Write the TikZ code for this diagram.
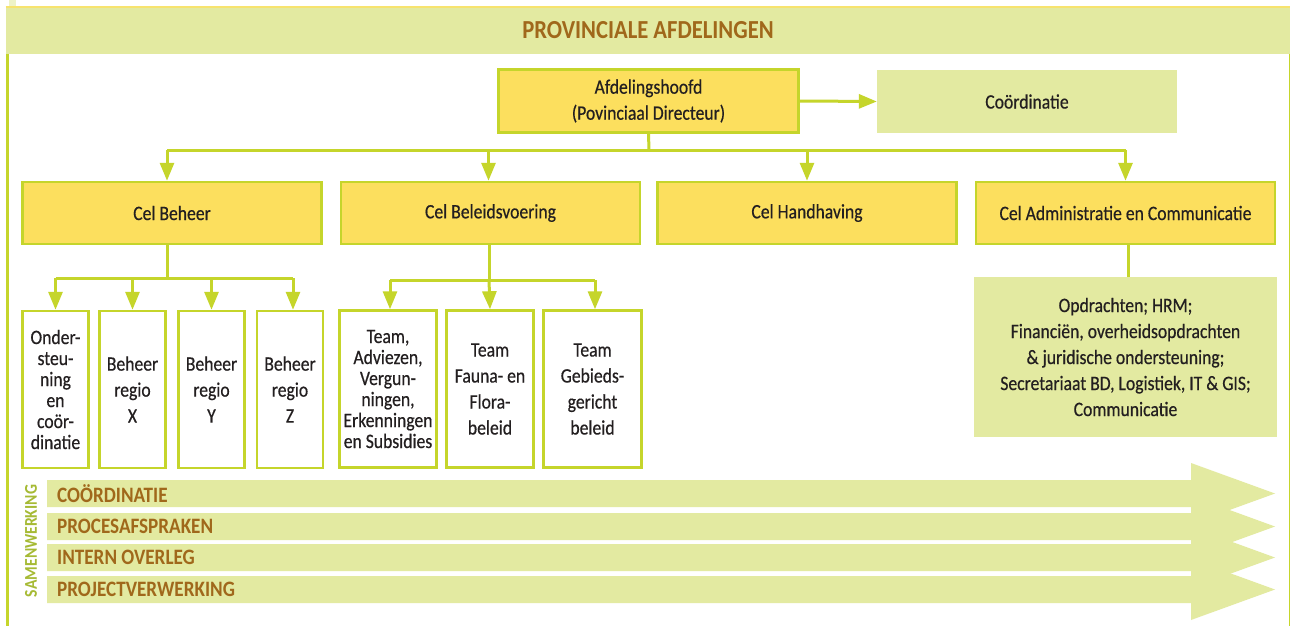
\documentclass[tikz,border=0pt]{standalone}
\usepackage{fontspec}
\setmainfont{Carlito}[FakeStretch=0.87]
\newfontfamily\bodyfam{Carlito}[FakeStretch=0.86, FakeBold=0.5]
\usetikzlibrary{arrows.meta}
\definecolor{lgreen}{HTML}{E3EAA1}
\definecolor{lime}{HTML}{C5D52B}
\definecolor{yfill}{HTML}{FCDF5E}
\definecolor{tbrown}{HTML}{A0681B}
\definecolor{olivegr}{HTML}{A6BA34}
\definecolor{topline}{HTML}{F7E36E}
\definecolor{txt}{HTML}{231F20}
\newcommand{\myBody}{\bodyfam\fontsize{20.5}{26}\selectfont}
\newcommand{\myTight}{\bodyfam\fontsize{20.5}{21}\selectfont}
\tikzset{
  ybox/.style={draw=lime, line width=2.5pt, fill=yfill, text=txt, font=\myBody, align=center, inner sep=0pt},
  wbox/.style={draw=lime, line width=2.5pt, fill=white, text=txt, font=\myBody, align=center, inner sep=0pt, minimum height=157pt},
  gbox/.style={fill=lgreen, text=txt, font=\myBody, align=center, inner sep=0pt},
  conn/.style={draw=lime, line width=3pt},
  arr/.style={conn, -{Triangle[length=18pt,width=14pt]}},
  lab/.style={anchor=west, text=tbrown, font=\fontsize{22}{24}\selectfont\bfseries, inner sep=0pt}
}
\begin{document}
\begin{tikzpicture}[x=1pt,y=-1pt]
\useasboundingbox (0,0) rectangle (1290,626);
\fill[white] (0,0) rectangle (1290,626);
\fill[lgreen!60] (9,0) rectangle (16,6);
% header band
\node[fill=lgreen, minimum width=1284pt, minimum height=47pt, inner sep=0pt, text=tbrown, font=\fontsize{26}{28}\selectfont\bfseries] (hdr) at (648,30.5) {PROVINCIALE AFDELINGEN};
\draw[topline, line width=1.5pt] (hdr.north west) -- (hdr.north east);
\coordinate (lt) at (7.5,54);
\coordinate (lb) at (7.5,626);
\coordinate (rt) at (1289,54);
\coordinate (rb) at (1289,626);
\draw[lime, line width=3pt] (lt) -- (lb);
\draw[lime, line width=1pt] (rt) -- (rb);
% top level
\node[ybox, minimum width=300pt, minimum height=63pt] (head) at (648.5,101) {Afdelingshoofd\\(Povinciaal Directeur)};
\node[gbox, minimum width=300pt, minimum height=63pt] (coord) at (1027,101.5) {Coördinatie};
\draw[arr] (head.east) -- (coord.west);
% cells
\node[ybox, minimum width=299pt, minimum height=62pt] (beheer) at (172,213) {Cel Beheer};
\node[ybox, minimum width=299pt, minimum height=62pt] (beleid) at (490.5,213) {Cel Beleidsvoering};
\node[ybox, minimum width=299pt, minimum height=62pt] (handh) at (807,213) {Cel Handhaving};
\node[ybox, minimum width=299pt, minimum height=62pt] (admin) at (1125.5,213) {Cel Administratie en Communicatie};
\coordinate (bus) at (649,150);
\draw[conn] (head.south) -- (bus);
\draw[conn] ([xshift=-5pt]beheer.north |- bus) -- (admin.north |- bus);
\draw[arr] ([xshift=-5pt]beheer.north |- bus) -- ([xshift=-5pt]beheer.north);
\draw[arr] ([xshift=-2pt]beleid.north |- bus) -- ([xshift=-2pt]beleid.north);
\draw[arr] (handh.north |- bus) -- (handh.north);
\draw[arr] (admin.north |- bus) -- (admin.north);
% beheer sub boxes
\node[wbox, minimum width=66pt, font=\myTight] (ond) at (55.5,389.5) {Onder-\\steu-\\ning\\en\\coör-\\dinatie};
\node[wbox, minimum width=66pt] (bx) at (132.5,389.5) {Beheer\\regio\\X};
\node[wbox, minimum width=66pt] (by) at (211.5,389.5) {Beheer\\regio\\Y};
\node[wbox, minimum width=66pt] (bz) at (290,389.5) {Beheer\\regio\\Z};
\coordinate (b1) at (167,278);
\draw[conn] ([xshift=-5pt]beheer.south) -- (b1);
\draw[conn] (ond.north |- b1) -- ([xshift=3pt]bz.north |- b1);
\draw[arr] (ond.north |- b1) -- (ond.north);
\draw[arr] (bx.north |- b1) -- (bx.north);
\draw[arr] (by.north |- b1) -- (by.north);
\draw[arr] ([xshift=3pt]bz.north |- b1) -- ([xshift=3pt]bz.north);
% beleid sub boxes
\node[wbox, minimum width=97pt, font=\myTight] (ta) at (388,389) {Team,\\Adviezen,\\Vergun-\\ningen,\\Erkenningen\\en Subsidies};
\node[wbox, minimum width=87pt] (tf) at (490,389) {Team\\Fauna- en\\Flora-\\beleid};
\node[wbox, minimum width=98pt] (tg) at (592.5,389) {Team\\Gebieds-\\gericht\\beleid};
\coordinate (b2) at (489,280);
\draw[conn] ([xshift=-1.5pt]beleid.south) -- (b2);
\draw[conn] ([xshift=2pt]ta.north |- b2) -- ([xshift=2.5pt]tg.north |- b2);
\draw[arr] ([xshift=2pt]ta.north |- b2) -- ([xshift=2pt]ta.north);
\draw[arr] (b2) -- (tf.north);
\draw[arr] ([xshift=2.5pt]tg.north |- b2) -- ([xshift=2.5pt]tg.north);
% admin detail
\node[gbox, minimum width=303pt, minimum height=160pt] (adet) at (1125.5,357) {Opdrachten; HRM;\\Financiën, overheidsopdrachten\\\& juridische ondersteuning;\\Secretariaat BD, Logistiek, IT \& GIS;\\Communicatie};
\draw[conn] ([xshift=2.5pt]admin.south) -- ([xshift=2.5pt]adet.north);
% samenwerking arrows
\foreach \c/\t [count=\i] in {493.5/COÖRDINATIE, 526.5/PROCESAFSPRAKEN, 557.5/INTERN OVERLEG, 589.5/PROJECTVERWERKING}{
  \fill[lgreen] (47,\c-13.5) -- (1191,\c-13.5) -- (1191,\c-30.5) -- (1275,\c) -- (1191,\c+30.5) -- (1191,\c+13.5) -- (47,\c+13.5) -- cycle;
  \node[lab] (band\i) at (57,\c) {\t};
}
\node[rotate=90, text=olivegr, font=\fontsize{18}{20}\selectfont\bfseries, inner sep=0pt] (samen) at (31,541) {SAMENWERKING};
\end{tikzpicture}
\end{document}
